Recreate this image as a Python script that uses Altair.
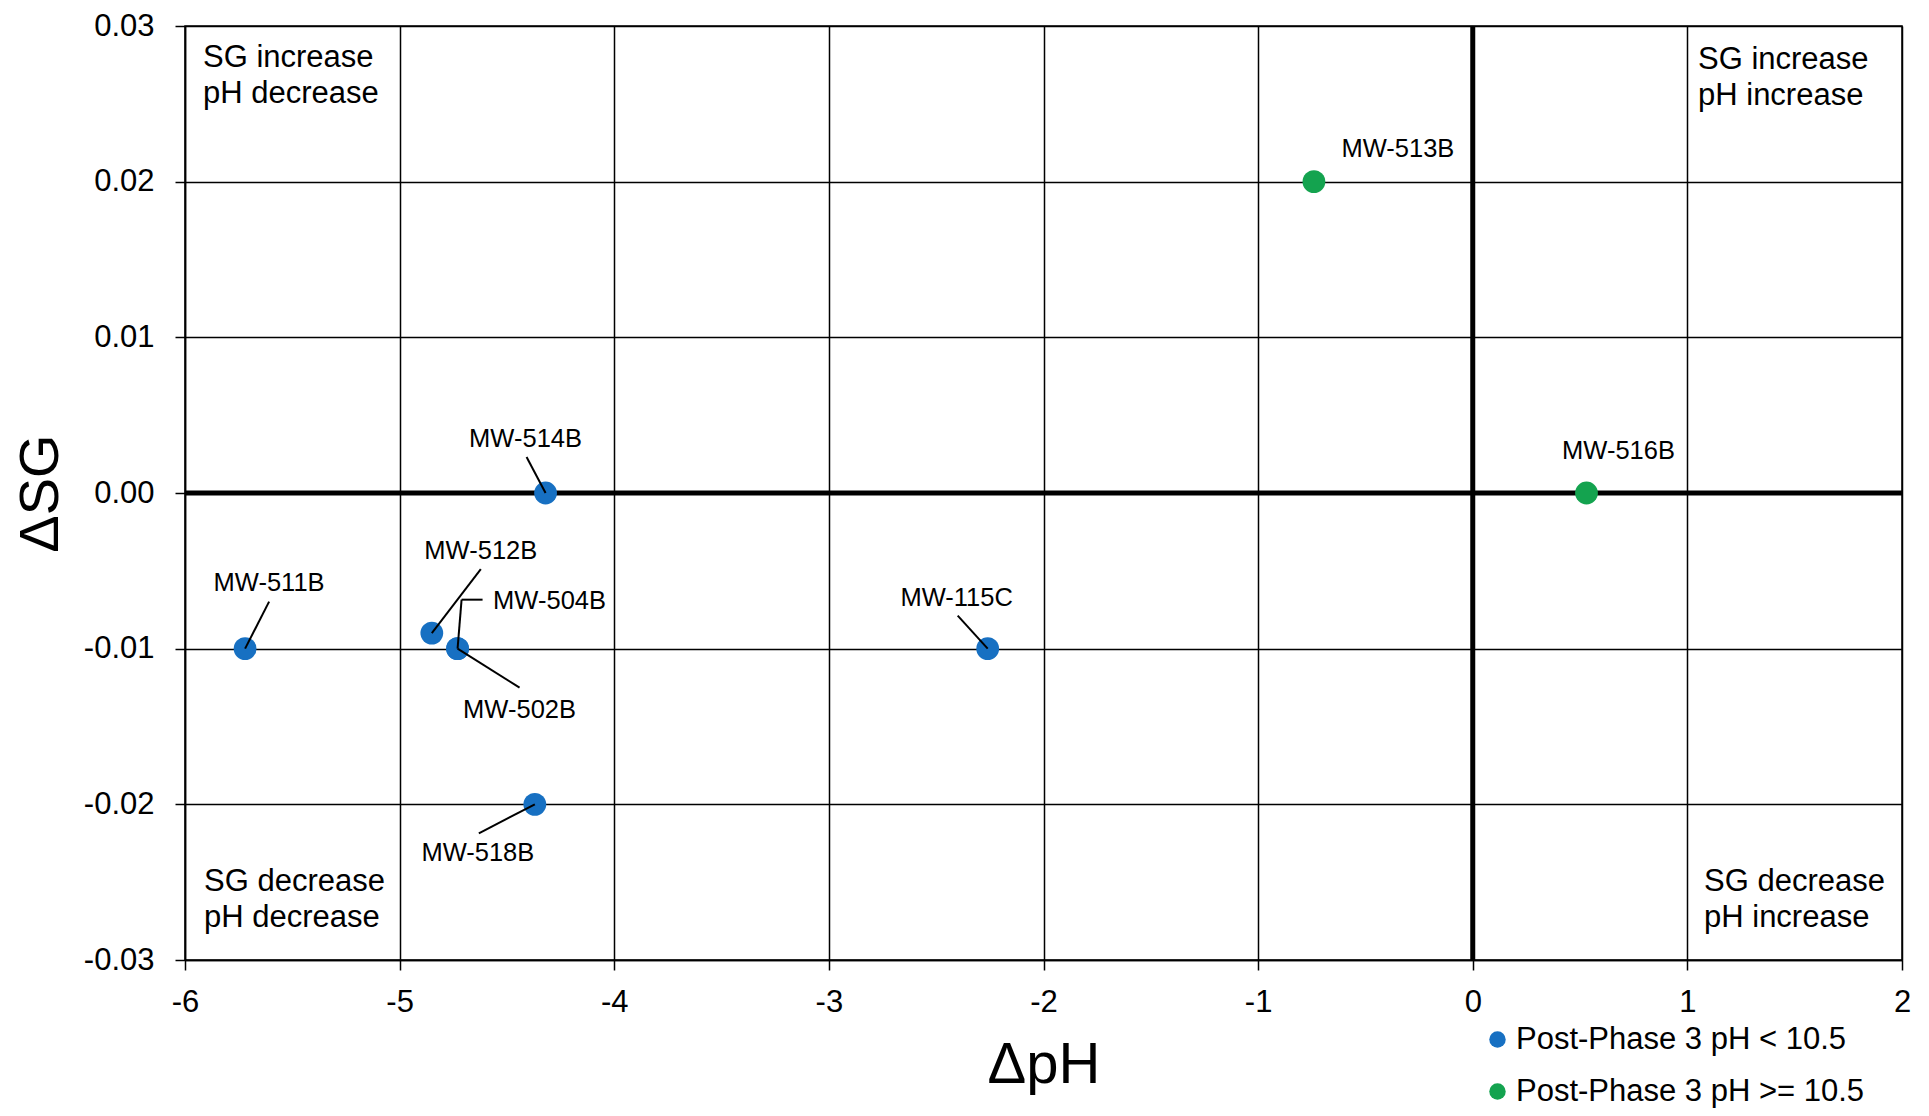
import altair as alt
import pandas as pd

# ---- data ----
wells = ["MW-511B", "MW-512B", "MW-504B", "MW-502B", "MW-514B",
         "MW-518B", "MW-115C", "MW-513B", "MW-516B"]
d_ph = [-5.72, -4.85, -4.73, -4.73, -4.32, -4.37, -2.26, -0.74, 0.53]
d_sg = [-0.010, -0.009, -0.010, -0.010, 0.000, -0.020, -0.010, 0.020, 0.000]
groups = ["Post-Phase 3 pH < 10.5"] * 7 + ["Post-Phase 3 pH >= 10.5"] * 2
group_names = ["Post-Phase 3 pH < 10.5", "Post-Phase 3 pH >= 10.5"]
group_colors = ["#1770C2", "#14A34F"]

x_ticks = [-6, -5, -4, -3, -2, -1, 0, 1, 2]
y_ticks = [-0.03, -0.02, -0.01, 0.0, 0.01, 0.02, 0.03]

quadrant_lines = [["SG increase", "pH decrease"], ["SG increase", "pH increase"],
                  ["SG decrease", "pH decrease"], ["SG decrease", "pH increase"]]

# ---- layout (pixels) ----
W, H = 1717, 934
XMIN, XMAX = -6, 2
YMIN, YMAX = -0.03, 0.03
PX_X = W / (XMAX - XMIN)
PX_Y = H / (YMAX - YMIN)

def dx(px):
    return px / PX_X

def dy(px):
    return -px / PX_Y

FONT = "Liberation Sans"

# label offsets from each point (pixels): text centre, leader-line end
label_off = {
    "MW-511B": (24, -66, (24, -47)),
    "MW-512B": (49, -82, (49, -64)),
    "MW-504B": (92, -48, None),
    "MW-502B": (62, 61, (62, 39)),
    "MW-514B": (-20, -54, (-19, -36)),
    "MW-518B": (-57, 49, (-56, 29)),
    "MW-115C": (-31, -51, (-30, -33)),
    "MW-513B": (84, -33, None),
    "MW-516B": (32, -42, None),
}

pts = pd.DataFrame({"well": wells, "dph": d_ph, "dsg": d_sg, "grp": groups})

lab_rows, seg_rows = [], []
for w, x, y in zip(wells, d_ph, d_sg):
    ox, oy, ln = label_off[w]
    lab_rows.append({"well": w, "x": x + dx(ox), "y": y + dy(oy)})
    if ln is not None:
        seg_rows.append({"x": x, "y": y, "x2": x + dx(ln[0]), "y2": y + dy(ln[1])})
    if w == "MW-504B":
        seg_rows.append({"x": x, "y": y, "x2": x + dx(4), "y2": y + dy(-49)})
        seg_rows.append({"x": x + dx(4), "y": y + dy(-49), "x2": x + dx(25), "y2": y + dy(-49)})
labs = pd.DataFrame(lab_rows)
segs = pd.DataFrame(seg_rows)

# quadrant captions
q_anchor = [(XMIN, YMAX, 18, 41), (XMAX, YMAX, -204, 43),
            (XMIN, YMIN, 19, -69), (XMAX, YMIN, -198, -69)]
q_rows = []
for (ax, ay, ox, oy), lines in zip(q_anchor, quadrant_lines):
    for i, t in enumerate(lines):
        q_rows.append({"t": t, "x": ax + dx(ox), "y": ay + dy(oy + 36 * i)})
quads = pd.DataFrame(q_rows)

xs = alt.Scale(domain=[XMIN, XMAX], nice=False, zero=False)
ys = alt.Scale(domain=[YMIN, YMAX], nice=False, zero=False)

x_axis = alt.Axis(values=x_ticks, title="ΔpH", grid=True, labelFlush=False,
                  labelExpr="datum.value < 0 ? '-' + format(-datum.value, 'd') : format(datum.value, 'd')",
                  labelFontSize=31, labelPadding=17, tickSize=10,
                  titleFontSize=58, titleFontWeight="normal",
                  titleX=W / 2, titleY=122, titleBaseline="alphabetic", titleAlign="center")
y_axis = alt.Axis(values=y_ticks, title="ΔSG", grid=True, labelFlush=False,
                  labelExpr="datum.value < -0.0001 ? '-' + format(-datum.value, '.2f') : format(abs(datum.value), '.2f')",
                  labelFontSize=31, labelPadding=21, tickSize=10,
                  titleFontSize=56, titleFontWeight="normal",
                  titleX=-128, titleY=H / 2, titleBaseline="alphabetic", titleAlign="center")

base_x = alt.X("x:Q", scale=xs, axis=x_axis)
base_y = alt.Y("y:Q", scale=ys, axis=y_axis)

zero_h = alt.Chart(pd.DataFrame({"x": [XMIN], "x2": [XMAX], "y": [0.0]})).mark_rule(
    color="black", strokeWidth=5).encode(x=base_x, x2="x2:Q", y=base_y)
zero_v = alt.Chart(pd.DataFrame({"x": [0.0], "y": [YMIN], "y2": [YMAX]})).mark_rule(
    color="black", strokeWidth=5).encode(x=base_x, y=base_y, y2="y2:Q")

points = alt.Chart(pts).mark_circle(size=520, opacity=1).encode(
    x=alt.X("dph:Q", scale=xs, axis=x_axis),
    y=alt.Y("dsg:Q", scale=ys, axis=y_axis),
    color=alt.Color("grp:N", scale=alt.Scale(domain=group_names, range=group_colors),
                    legend=alt.Legend(title=None, orient="none", legendX=1297, legendY=998,
                                      labelFontSize=31, labelFont=FONT, labelColor="black",
                                      symbolType="circle", symbolSize=270, symbolStrokeWidth=0,
                                      rowPadding=20, labelOffset=3, padding=0,
                                      labelLimit=600)),
)

leaders = alt.Chart(segs).mark_rule(color="black", strokeWidth=2).encode(
    x=base_x, y=base_y, x2="x2:Q", y2="y2:Q")

labels = alt.Chart(labs).mark_text(font=FONT, fontSize=25.5, color="black",
                                   align="center", baseline="middle").encode(
    x=base_x, y=base_y, text="well:N")

qtext = alt.Chart(quads).mark_text(font=FONT, fontSize=31, color="black",
                                   align="left", baseline="alphabetic").encode(
    x=base_x, y=base_y, text="t:N")

chart = alt.layer(zero_h, zero_v, points, leaders, labels, qtext).properties(
    width=W, height=H,
    autosize=alt.AutoSizeParams(type="none"),
    padding={"left": 177, "top": 18, "right": 10, "bottom": 148},
).configure_view(stroke="black", strokeWidth=1.5).configure_axis(
    gridColor="black", gridWidth=1.5, gridOpacity=1,
    domainColor="black", domainWidth=1.5, tickColor="black", tickWidth=1.5,
    labelColor="black", titleColor="black", labelFont=FONT, titleFont=FONT,
)

chart.save("out.html", embed_options={"renderer": "svg", "actions": False})
